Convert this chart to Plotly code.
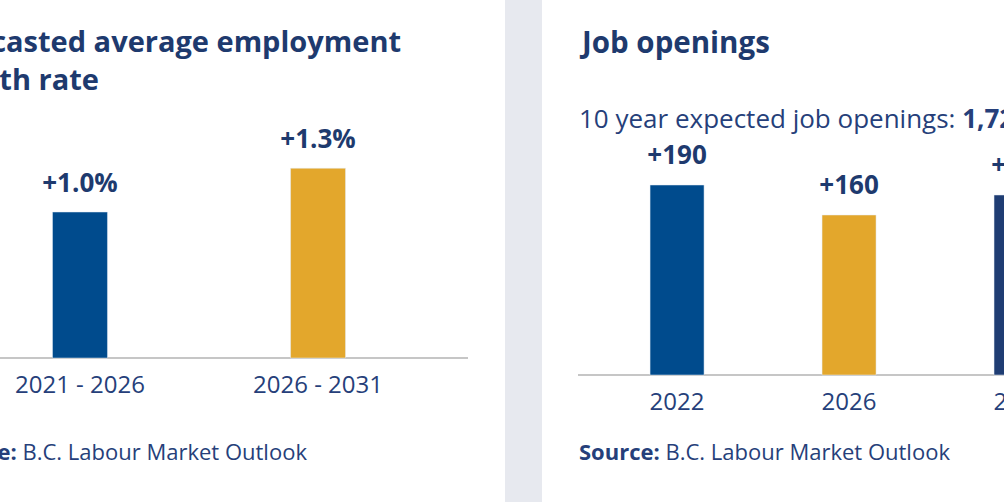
import plotly.graph_objects as go

W, H = 1004, 502

# ---- data ----
left_categories = ["2021 - 2026", "2026 - 2031"]
left_values = [1.0, 1.3]
left_colors = ["#004b8d", "#e3a72c"]

right_categories = ["2022", "2026", "2031"]
right_values = [190, 160, 180]
right_colors = ["#004b8d", "#e3a72c", "#1f3d73"]

total_openings = "1,720"

left_title = "Forecasted average employment<br>growth rate"
right_title = "Job openings"
source_text = "<b>Source:</b> B.C. Labour Market Outlook"

# ---- style ----
FONT = "Open Sans"
TITLE_C = "#1e3a6e"
TEXT_C = "#263f7a"
AXIS_C = "#c6c6c6"


def px_x(p):
    return p / W


def px_y(p):
    return 1 - p / H


fig = go.Figure()

# left chart
fig.add_trace(go.Bar(x=left_categories, y=left_values, marker_color=left_colors,
                     width=0.231, xaxis="x", yaxis="y", hoverinfo="skip"))
fig.add_trace(go.Scatter(x=left_categories, y=left_values, mode="markers+text",
                         texttemplate="+%{y:.1f}%", textposition="top center",
                         marker=dict(size=20, color="rgba(0,0,0,0)"),
                         textfont=dict(family=FONT, size=26, color=TITLE_C, weight="bold"),
                         xaxis="x", yaxis="y", hoverinfo="skip"))
fig.add_trace(go.Scatter(x=left_categories, y=[0] * len(left_categories), mode="markers+text",
                         text=left_categories, textposition="bottom center",
                         marker=dict(size=26, color="rgba(0,0,0,0)"),
                         textfont=dict(family=FONT, size=24, color=TEXT_C),
                         xaxis="x", yaxis="y", hoverinfo="skip"))

# right chart
fig.add_trace(go.Bar(x=right_categories, y=right_values, marker_color=right_colors,
                     width=0.314, xaxis="x2", yaxis="y2", hoverinfo="skip"))
fig.add_trace(go.Scatter(x=right_categories, y=right_values, mode="markers+text",
                         texttemplate="+%{y}", textposition="top center",
                         marker=dict(size=22, color="rgba(0,0,0,0)"),
                         textfont=dict(family=FONT, size=26, color=TITLE_C, weight="bold"),
                         xaxis="x2", yaxis="y2", hoverinfo="skip"))
fig.add_trace(go.Scatter(x=right_categories, y=[0] * len(right_categories), mode="markers+text",
                         text=right_categories, textposition="bottom center",
                         marker=dict(size=26, color="rgba(0,0,0,0)"),
                         textfont=dict(family=FONT, size=24, color=TEXT_C),
                         xaxis="x2", yaxis="y2", hoverinfo="skip"))

axis_common = dict(showgrid=False, showticklabels=False, showline=False, ticks="", fixedrange=True)

fig.update_layout(
    width=W, height=H,
    margin=dict(l=0, r=0, t=0, b=0),
    paper_bgcolor="white", plot_bgcolor="rgba(0,0,0,0)",
    showlegend=False,
    font=dict(family=FONT, color=TEXT_C),
    xaxis=dict(domain=[0, px_x(468)], type="category", range=[-0.336, 1.630],
               zeroline=False, **axis_common),
    yaxis=dict(domain=[0, 1], range=[-0.986, 2.452], zeroline=True,
               zerolinecolor=AXIS_C, zerolinewidth=2, **axis_common),
    xaxis2=dict(domain=[px_x(578), 1], type="category", range=[-0.576, 1.901],
                zeroline=False, anchor="y2", **axis_common),
    yaxis2=dict(domain=[0, 1], range=[-127, 375], zeroline=True, anchor="x2",
                zerolinecolor=AXIS_C, zerolinewidth=2, **axis_common),
    shapes=[dict(type="rect", xref="paper", yref="paper", x0=px_x(505), x1=px_x(542),
                 y0=0, y1=1, fillcolor="#e7e9ef", line=dict(width=0), layer="below")],
    annotations=[
        dict(text=f"<b>{left_title}</b>", xref="paper", yref="paper", x=px_x(403), y=px_y(19),
             xanchor="right", yanchor="top", align="left", showarrow=False,
             font=dict(family=FONT, size=29, color=TITLE_C)),
        dict(text=f"<b>{right_title}</b>", xref="paper", yref="paper", x=px_x(577), y=px_y(19),
             xanchor="left", yanchor="top", align="left", showarrow=False,
             font=dict(family=FONT, size=29.5, color=TITLE_C)),
        dict(text=f"10 year expected job openings: <b>{total_openings}</b>", xref="paper", yref="paper",
             x=px_x(577), y=px_y(118), xanchor="left", yanchor="middle", showarrow=False,
             font=dict(family=FONT, size=26, color=TEXT_C)),
        dict(text=source_text, xref="paper", yref="paper", x=px_x(309), y=px_y(451),
             xanchor="right", yanchor="middle", showarrow=False,
             font=dict(family=FONT, size=22, color=TEXT_C)),
        dict(text=source_text, xref="paper", yref="paper", x=px_x(577), y=px_y(451),
             xanchor="left", yanchor="middle", showarrow=False,
             font=dict(family=FONT, size=22, color=TEXT_C)),
    ],
)

fig.write_html(
    "out.html",
    config={"displayModeBar": False},
    post_script="document.body.style.margin='0';document.body.style.overflow='hidden';",
)
